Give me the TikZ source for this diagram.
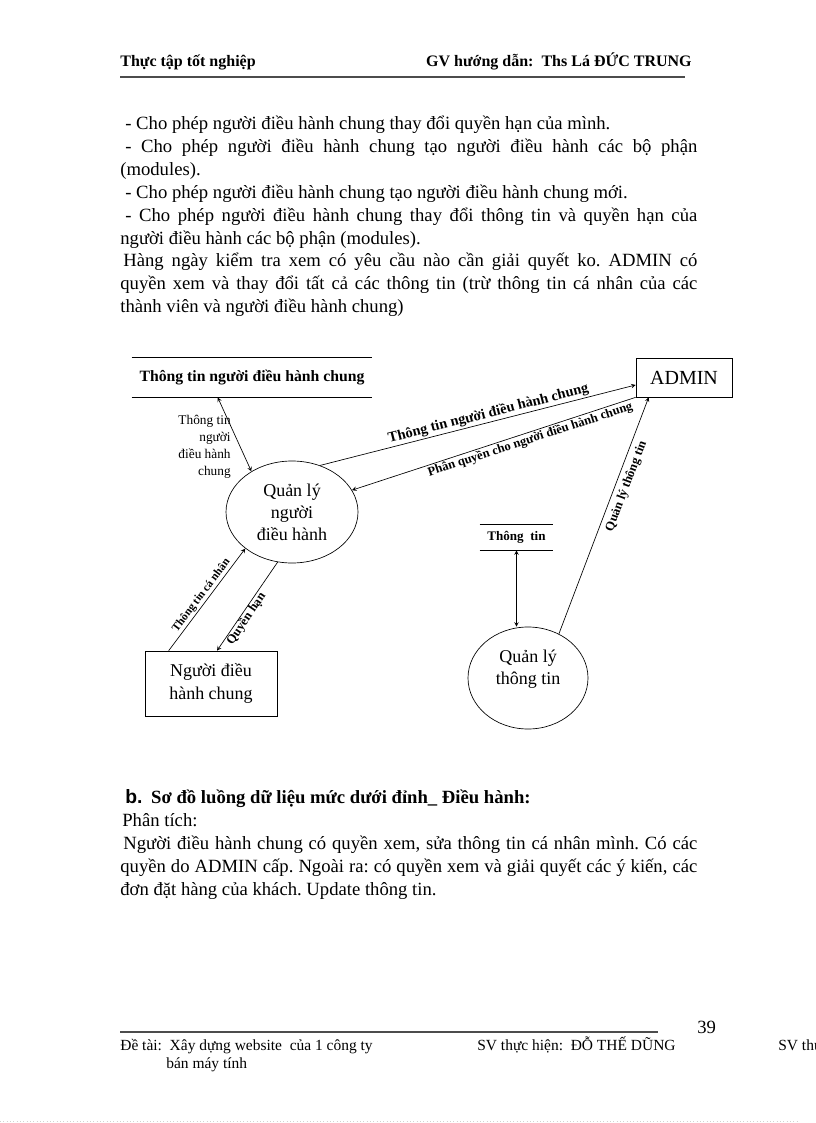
\documentclass[tikz,border=0pt]{standalone}
\usepackage{fontspec}
\setmainfont{Liberation Serif}
\newfontfamily\sansb{Liberation Sans}
\usetikzlibrary{shapes.geometric}
\newcommand{\canhdeu}[2]{\makebox[#1][s]{#2}}
\frenchspacing

\tikzset{
  dong/.style={anchor=base west, inner sep=0pt, font=\fontsize{14}{16}\selectfont},
  chan/.style={anchor=base west, inner sep=0pt, font=\fontsize{11.6}{13}\selectfont},
  hop/.style={draw, inner sep=0pt, align=center, font=\fontsize{13.5}{17}\selectfont},
  xuly/.style={draw, ellipse, inner sep=0pt, align=center, font=\fontsize{13.5}{16.5}\selectfont},
  kho/.style={inner sep=0pt, font=\bfseries\fontsize{11.8}{13}\selectfont},
  nhan/.style={sloped, inner sep=1pt, font=\bfseries\fontsize{9.5}{11}\selectfont},
}

\begin{document}
\begin{tikzpicture}[x=0.75pt, y=-0.75pt, >=stealth, line width=0.5pt]
\useasboundingbox[fill=white] (0,0) rectangle (816,1123);

% dau trang
\node[anchor=base west, inner sep=0pt, font=\bfseries\fontsize{12}{14}\selectfont] (dau1) at (120,67) {Thực tập tốt nghiệp};
\node[anchor=base east, inner sep=0pt, font=\bfseries\fontsize{12}{14}\selectfont] (dau2) at (692,67) {GV hướng dẫn:\ \ Ths Lá ĐỨC TRUNG};
\draw[gray!60!black, line width=1.5pt] (120,77) -- (685,77);

% doan van
\node[dong] (d1) at (125,130) {- Cho phép người điều hành chung thay đổi quyền hạn của mình.};
\node[dong] (d2) at (125,152.8) {\canhdeu{429pt}{- Cho phép người điều hành chung tạo người điều hành các bộ phận}};
\node[dong] (d3) at (120,175.6) {(modules).};
\node[dong] (d4) at (125,198.4) {- Cho phép người điều hành chung tạo người điều hành chung mới.};
\node[dong] (d5) at (125,221.2) {\canhdeu{429pt}{- Cho phép người điều hành chung thay đổi thông tin và quyền hạn của}};
\node[dong] (d6) at (120,244) {người điều hành các bộ phận (modules).};
\node[dong] (d7) at (123,266.8) {\canhdeu{430.5pt}{Hàng ngày kiểm tra xem có yêu cầu nào cần giải quyết ko. ADMIN có}};
\node[dong] (d8) at (120,289.6) {\canhdeu{432.75pt}{quyền xem và thay đổi tất cả các thông tin (trừ thông tin cá nhân của các}};
\node[dong] (d9) at (120,312.4) {thành viên và người điều hành chung)};

% so do
\node[kho, minimum width=180pt, minimum height=29.25pt] (kho1) at (252,377.5) {Thông tin người điều hành chung};
\draw (kho1.north west) -- (kho1.north east) (kho1.south west) -- (kho1.south east);
\node[hop, minimum width=72pt, minimum height=29.25pt, font=\fontsize{15}{17}\selectfont] (admin) at (684,377.5) {ADMIN};
\node[xuly, minimum width=99pt, minimum height=76.5pt] (qlnd) at (292,512) {Quản lý\\người\\điều hành};
\node[hop, minimum width=99pt, minimum height=48.75pt] (ndhc) at (211,683.5) {Người điều\\hành chung};
\node[kho, minimum width=54.75pt, minimum height=18.75pt, font=\bfseries\fontsize{9.8}{11}\selectfont] (kho2) at (516.5,537.5) {Thông\ \ tin};
\draw (kho2.north west) -- (kho2.north east) (kho2.south west) -- (kho2.south east);
\node[xuly, minimum width=90pt, minimum height=76.5pt,
      label={[font=\fontsize{13.5}{17}\selectfont, align=center, yshift=6.5pt]center:Quản lý\\thông tin}] (qltt) at (528,678) {};
\node[anchor=north east, inner sep=0pt, align=right, font=\fontsize{10}{12.75}\selectfont] (nhan1) at (231,415) {Thông tin\\người\\điều hành\\chung};

\draw[<->] ([xshift=64.5pt]kho1.south west) -- (qlnd.135);
\draw[->] (qlnd.59) -- node[nhan, above, pos=0.54, font=\bfseries\fontsize{10.8}{12}\selectfont] {Thông tin người điều hành chung} ([yshift=-5.6pt]admin.west);
\draw[<-] (qlnd.20) -- node[nhan, below, pos=0.62] {Phân quyền cho người điều hành chung} (admin.south west);
\draw[->] (qltt.55) -- node[nhan, below=2.5pt, pos=0.64] {Quản lý thông tin} ([xshift=9.75pt]admin.south west);
\draw[<->] (kho2.south) -- (kho2.south |- qltt.north);
\draw[->] ([xshift=18pt]ndhc.north west) -- node[nhan, above, pos=0.5, font=\bfseries\fontsize{8.5}{10}\selectfont] {Thông tin cá nhân} (qlnd.218);
\draw[<-] ([xshift=4.5pt]ndhc.north) -- node[nhan, below, inner sep=0pt, pos=0.4] {Quyền hạn} (qlnd.254);

% muc b
\node[anchor=base west, inner sep=0pt, font=\sansb\bfseries\fontsize{14.5}{16}\selectfont] (muc) at (125,803) {b.};
\node[anchor=base west, inner sep=0pt, font=\bfseries\fontsize{14}{16}\selectfont] (tieude) at ([xshift=6pt]muc.base east) {Sơ đồ luồng dữ liệu mức dưới đỉnh\_ Điều hành:};
\node[dong] (p0) at (122,826) {Phân tích:};
\node[dong] (p1) at (123,849) {\canhdeu{430.5pt}{Người điều hành chung có quyền xem, sửa thông tin cá nhân mình. Có các}};
\node[dong] (p2) at (120,872) {\canhdeu{432.75pt}{quyền do ADMIN cấp. Ngoài ra: có quyền xem và giải quyết các ý kiến, các}};
\node[dong] (p3) at (120,895) {đơn đặt hàng của khách. Update thông tin.};

% chan trang
\draw[gray!60!black, line width=1.5pt] (120,1032) -- (658,1032);
\node[anchor=base west, inner sep=0pt, font=\fontsize{14}{16}\selectfont] (sotrang) at (697,1033) {39};
\node[chan] (chan1) at (120,1050) {Đề tài:\ \ Xây dựng website\ \ của 1 công ty};
\node[chan] (chan2) at (166,1068) {bán máy tính};
\node[chan] (chan3) at (477,1050) {SV thực hiện:\ \ ĐỖ THẾ DŨNG};
\node[chan] (chan4) at (778,1050) {SV thực hiện:};
\draw[gray!35, dotted] (0,1121) -- (798,1121);
\end{tikzpicture}
\end{document}
